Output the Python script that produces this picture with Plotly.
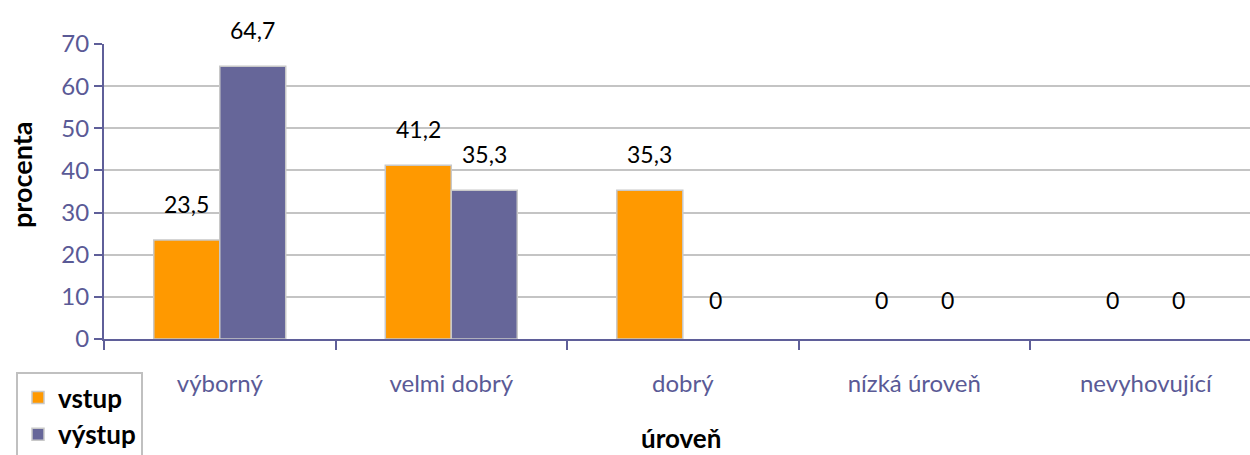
import plotly.graph_objects as go

categories = ["výborný", "velmi dobrý", "dobrý", "nízká úroveň", "nevyhovující"]
vstup = [23.5, 41.2, 35.3, 0, 0]
vystup = [64.7, 35.3, 0, 0, 0]
series_names = ["vstup", "výstup"]
y_ticks = [0, 10, 20, 30, 40, 50, 60, 70]

FONT = "Lato"
AXIS_COLOR = "#5f5f99"
TICK_COLOR = "#5a5a96"
colors = ["#ff9900", "#666699"]

W, H = 1250, 455
ML, MR, MT, MB = 104, 0, 44, 116
PW, PH = W - ML - MR, H - MT - MB

def px_x(px):
    return (px - ML) / PW

def px_y(py):
    return (H - MB - py) / PH

fig = go.Figure()
for name, vals, col in zip(series_names, [vstup, vystup], colors):
    fig.add_trace(go.Bar(
        x=categories, y=vals, name=name,
        marker=dict(color=col, line=dict(color="#c8c8c8",
                                         width=[1.5 if v > 0 else 0 for v in vals])),
    ))

def fmt(v):
    return f"{v:g}".replace(".", ",")

# data labels
for vals, off in zip([vstup, vystup], [-0.5, 0.5]):
    for j, v in enumerate(vals):
        fig.add_annotation(
            x=j + off * 0.285, y=v, xref="x", yref="y",
            text=fmt(v), showarrow=False, yshift=36 if v > 0 else 39,
            font=dict(family=FONT, size=23, color="#000000"),
        )

# axis titles
fig.add_annotation(
    text="<b>úroveň</b>", xref="paper", yref="paper",
    x=px_x(681), y=px_y(438), xanchor="center", yanchor="middle",
    showarrow=False, font=dict(family=FONT, size=26, color="#000000"),
)
fig.add_annotation(
    text="<b>procenta</b>", xref="paper", yref="paper",
    x=px_x(21), y=px_y(175), xanchor="center", yanchor="middle",
    showarrow=False, textangle=-90, font=dict(family=FONT, size=27, color="#000000"),
)

fig.update_layout(
    width=W, height=H,
    margin=dict(l=ML, r=MR, t=MT, b=MB, autoexpand=False),
    paper_bgcolor="white", plot_bgcolor="white",
    barmode="group", bargap=0.43, bargroupgap=0,
    font=dict(family=FONT),
    legend=dict(
        x=px_x(16), y=px_y(372), xanchor="left", yanchor="top",
        bordercolor="#c0c0c0", borderwidth=2,
        font=dict(family=FONT, size=26, color="#000000", weight="bold"),
        bgcolor="white", tracegroupgap=4,
    ),
    xaxis=dict(
        type="category", range=[-0.5, 4.45], automargin=False,
        showline=True, linecolor=AXIS_COLOR, linewidth=2,
        ticks="outside", tickson="boundaries", ticklen=9, tickwidth=2, tickcolor=AXIS_COLOR,
        tickfont=dict(family=FONT, size=24, color=TICK_COLOR),
        ticklabelstandoff=22,
        showgrid=False,
    ),
    yaxis=dict(
        range=[0, 70], tickvals=y_ticks, automargin=False,
        showline=True, linecolor=AXIS_COLOR, linewidth=2,
        ticks="outside", ticklen=8, tickwidth=2, tickcolor=AXIS_COLOR,
        tickfont=dict(family=FONT, size=24, color=TICK_COLOR),
        showgrid=True, gridcolor="#c4c4c4", gridwidth=2,
        zeroline=False,
    ),
)

fig.write_html("out.html")
